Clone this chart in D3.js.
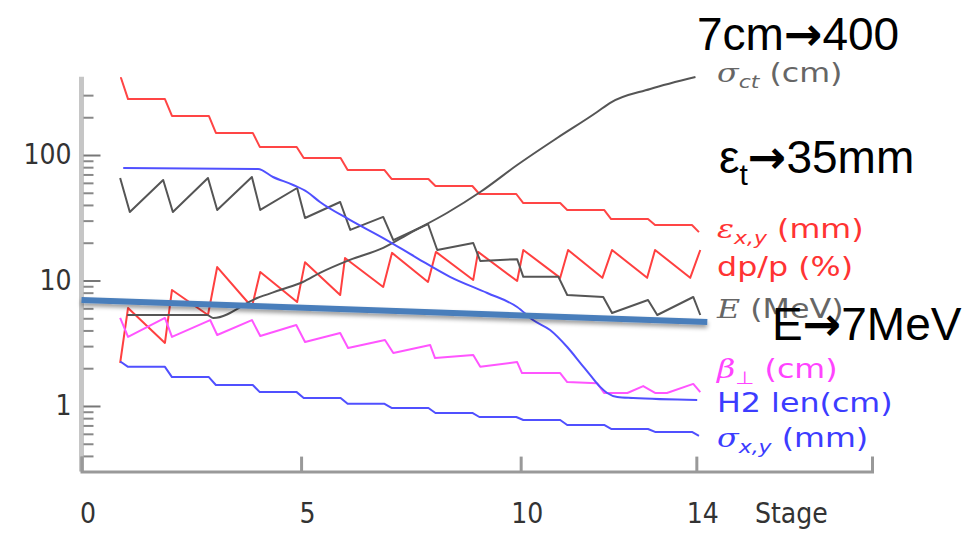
<!DOCTYPE html>
<html>
<head>
<meta charset="utf-8">
<script src="https://cdn.jsdelivr.net/npm/d3@7/dist/d3.min.js"></script>
<style>
  body { margin: 0; background: #fff; }
  svg { display: block; }
</style>
</head>
<body>
<div id="chart"></div>
<script>
// ---- valeurs ----
var stageTicks = [0, 5, 10, 14];
var yTicks = [1, 10, 100];
var yMinorTicks = [0.4, 0.5, 0.6, 0.7, 0.8, 0.9, 2, 3, 4, 5, 6, 7, 8, 9,
                   20, 30, 40, 50, 60, 70, 80, 90, 200, 300];

// series en escalier : niveau avant l'etage 1 puis niveau de chaque etage
var stepStarts = [1, 2, 3, 4, 5, 6, 7, 8, 9, 10, 11, 12, 13, 14];
var epsXYLevels = [411, 279, 205, 150, 116, 94.6, 75.9, 64.4, 56.6, 48.9, 41.4, 36.5, 30.9, 27.7, 24.3];
var sigmaXYLevels = [2.24, 2.05, 1.70, 1.47, 1.29, 1.16, 1.04, 0.964, 0.880, 0.817, 0.773, 0.706, 0.656, 0.621, 0.577];

// E (MeV), dents de scie
var eStage = [0.88, 1.10, 1.86, 2.08, 2.88, 3.09, 3.88, 4.07, 4.91, 5.09, 5.89, 6.12, 6.87, 7.10,
              7.89, 8.10, 8.92, 9.08, 9.92, 10.06, 10.86, 11.06, 11.88, 12.08, 12.90, 13.11, 13.93, 14.09];
var eValue = [65.6, 35.1, 63.2, 35.1, 65.6, 36.5, 66.8, 36.5, 54.6, 31.5, 42.2, 25.3, 32.1, 21.0,
              28.2, 17.5, 19.9, 14.3, 14.8, 10.7, 10.7, 7.66, 7.39, 5.51, 6.99, 5.31, 7.39, 5.31];

// dp/p (%)
var dppStage = [0.88, 1.06, 1.90, 2.06, 2.88, 3.09, 3.88, 4.07, 4.91, 5.09, 5.89, 6.00, 6.87, 7.07,
                7.89, 8.07, 8.92, 9.03, 9.92, 10.06, 10.90, 11.08, 11.86, 12.08, 12.88, 13.06, 13.86, 14.09];
var dppValue = [2.20, 6.04, 3.18, 8.40, 5.31, 12.8, 6.15, 11.7, 6.74, 14.0, 7.66, 15.1, 8.88, 16.6,
                9.73, 16.9, 10.1, 16.9, 9.91, 17.5, 10.5, 17.5, 10.5, 17.5, 10.5, 17.5, 10.5, 17.5];

// beta perp (cm)
var betaStage = [0.88, 1.06, 1.90, 2.06, 2.93, 3.09, 3.88, 4.07, 4.89, 5.09, 5.89, 6.07, 6.91, 7.10,
                 7.94, 8.05, 8.92, 9.08, 9.92, 10.03, 10.90, 11.06, 11.74, 11.90, 12.43, 12.79, 13.06, 13.33, 13.93, 14.09];
var betaValue = [5.03, 3.55, 5.03, 3.55, 4.84, 3.68, 4.84, 3.61, 4.42, 3.24, 3.82, 2.90, 3.36, 2.64,
                 3.06, 2.41, 2.55, 2.05, 2.24, 1.83, 1.83, 1.55, 1.52, 1.27, 1.27, 1.44, 1.27, 1.27, 1.50, 1.29];

// sigma ct (cm)
var sigmaCtStage = [1.04, 2.86, 3.00, 4.00, 4.52, 5.04, 5.43, 6.11, 6.87, 7.48, 8.32, 9.08, 9.92, 10.83, 11.74, 12.03, 12.95, 13.98];
var sigmaCtValue = [5.31, 5.31, 5.03, 7.25, 8.40, 9.73, 11.5, 14.6, 18.2, 23.9, 34.5, 50.7, 83.2, 136.6, 220, 259.5, 335.7, 418];

// longueur H2 (cm)
var h2Stage = [0.95, 4.02, 4.36, 4.82, 5.14, 5.43, 6.12, 6.87, 7.64, 8.39, 9.24, 9.92, 10.28, 10.67,
               11.06, 11.36, 11.58, 11.81, 11.97, 12.20, 12.56, 14.02];
var h2Value = [78.8, 77.3, 66.8, 57.7, 50.7, 42.2, 30.3, 21.8, 15.1, 10.7, 7.95, 6.15, 4.84, 4.03,
               2.95, 2.20, 1.77, 1.42, 1.27, 1.18, 1.158, 1.116];

// trait epais ajoute sur la diapo (E)
var eTrendStage = [0, 14.25];
var eTrendValue = [7.0, 4.67];

// ---- dessin ----
var largeur = 980, hauteur = 534;
var svg = d3.select("#chart").append("svg").attr("width", largeur).attr("height", hauteur);

var x = d3.scaleLinear().domain([0, 18]).range([81.5, 872]);
var y = d3.scaleLog().domain([0.3, 420]).range([471.6, 76.8]);

var axeFont = "'DejaVu Sans Condensed', 'DejaVu Sans', sans-serif";

// axe vertical (trait gris clair epais)
svg.append("line")
    .attr("x1", x(0)).attr("x2", x(0))
    .attr("y1", y(420)).attr("y2", y(0.3))
    .attr("stroke", "#c6c6c6").attr("stroke-width", 5);

var gMin = svg.append("g").attr("transform", "translate(" + (x(0) + 2) + ",0)")
    .call(d3.axisLeft(y).tickValues(yMinorTicks).tickSize(-10).tickFormat(""));
gMin.select(".domain").remove();
gMin.selectAll("line").attr("stroke", "#888").attr("stroke-width", 2);

var gMaj = svg.append("g").attr("transform", "translate(" + (x(0) + 2) + ",0)")
    .call(d3.axisLeft(y).tickValues(yTicks).tickSize(-17).tickPadding(12).tickFormat(d3.format("d")));
gMaj.select(".domain").remove();
gMaj.selectAll("line").attr("stroke", "#777").attr("stroke-width", 2);
gMaj.selectAll("text").attr("font-family", axeFont).attr("font-size", 28).attr("fill", "#333");

// axe horizontal
var gX = svg.append("g").attr("transform", "translate(0," + y(0.3) + ")")
    .call(d3.axisBottom(x).tickValues(stageTicks).tickSize(-15).tickPadding(32));
gX.select(".domain").attr("stroke", "#999").attr("stroke-width", 3);
gX.selectAll("line").attr("stroke", "#999").attr("stroke-width", 3);
gX.selectAll("text").attr("font-family", axeFont).attr("font-size", 28).attr("fill", "#333").attr("dx", 6);

svg.append("text")
    .attr("x", 755).attr("y", y(0.3) + 32).attr("dy", "0.71em")
    .attr("font-family", axeFont).attr("font-size", 28).attr("fill", "#333")
    .text("Stage");

// ---- courbes ----
function marches(niveaux) {
    var pts = [[0.88, niveaux[0]]];
    for (var i = 0; i < stepStarts.length; i++) {
        pts.push([stepStarts[i] - 0.1, niveaux[i]]);
        pts.push([stepStarts[i] + 0.06, niveaux[i + 1]]);
    }
    return pts;
}
function paires(s, v) {
    return s.map(function(d, i) { return [d, v[i]]; });
}

var ligne = d3.line().x(function(d) { return x(d[0]); }).y(function(d) { return y(d[1]); });
var ligneLisse = d3.line().curve(d3.curveMonotoneX).x(function(d) { return x(d[0]); }).y(function(d) { return y(d[1]); });

var series = [
    { pts: marches(epsXYLevels), couleur: "#ff4545", gen: ligne },
    { pts: paires(dppStage, dppValue), couleur: "#ff4040", gen: ligne },
    { pts: paires(eStage, eValue), couleur: "#555", gen: ligne },
    { pts: paires(sigmaCtStage, sigmaCtValue), couleur: "#555", gen: ligneLisse },
    { pts: paires(betaStage, betaValue), couleur: "#ff55ff", gen: ligne },
    { pts: paires(h2Stage, h2Value), couleur: "#5050ff", gen: ligneLisse },
    { pts: marches(sigmaXYLevels), couleur: "#5050ff", gen: ligne }
];

series.forEach(function(s) {
    svg.append("path")
        .attr("d", s.gen(s.pts))
        .attr("fill", "none")
        .attr("stroke", s.couleur)
        .attr("stroke-width", 2)
        .attr("stroke-linejoin", "round");
});

// ---- etiquettes des courbes ----
var etiquettes = [
    { y: 82,  couleur: "#666",    parts: [["σ", "m"], ["ct", "s"], [" (cm)", ""]] },
    { y: 238, couleur: "#ff3333", parts: [["ε", "m"], ["x,y", "s"], [" (mm)", ""]] },
    { y: 276, couleur: "#ff3333", parts: [["dp/p (%)", ""]] },
    { y: 318, couleur: "#666",    parts: [["E", "m"], [" (MeV)", ""]] },
    { y: 378, couleur: "#ff44ff", parts: [["β", "m"], ["⊥", "s"], [" (cm)", ""]] },
    { y: 412, couleur: "#3c3cff", parts: [["H2 len(cm)", ""]] },
    { y: 447, couleur: "#3c3cff", parts: [["σ", "m"], ["x,y", "s"], [" (mm)", ""]] }
];

etiquettes.forEach(function(e) {
    var t = svg.append("text")
        .attr("transform", "translate(717," + e.y + ") scale(1.22,1)")
        .attr("font-family", "'DejaVu Sans', sans-serif")
        .attr("font-size", 26)
        .attr("fill", e.couleur);
    var decal = 0;
    e.parts.forEach(function(p) {
        var ts = t.append("tspan").text(p[0]);
        if (p[1] === "m") {
            ts.attr("font-family", "'DejaVu Serif', serif").attr("font-style", "italic");
        }
        if (p[1] === "s") {
            ts.attr("font-size", 18).attr("font-style", "italic").attr("dy", 6);
            decal = 6;
        } else if (decal) {
            ts.attr("dy", -decal);
            decal = 0;
        }
    });
});

// ---- trait epais E avec ombre ----
var defs = svg.append("defs");
var ombre = defs.append("filter").attr("id", "ombre")
    .attr("x", "-5%").attr("y", "-300%").attr("width", "110%").attr("height", "700%");
ombre.append("feDropShadow").attr("dx", 0).attr("dy", 3).attr("stdDeviation", 2)
    .attr("flood-color", "#000").attr("flood-opacity", 0.4);

svg.append("path")
    .attr("d", ligne(paires(eTrendStage, eTrendValue)))
    .attr("stroke", "#4a7ebb")
    .attr("stroke-width", 6)
    .attr("fill", "none")
    .attr("filter", "url(#ombre)");

// ---- annotations ----
var noteFont = "'Liberation Sans', Arial, sans-serif";
var fleche = "'DejaVu Sans', sans-serif";

var n1 = svg.append("text").attr("x", 697).attr("y", 50)
    .attr("font-family", noteFont).attr("font-size", 46).attr("fill", "#000");
n1.append("tspan").text("7cm");
n1.append("tspan").attr("font-family", fleche).attr("font-weight", "bold").text("→");
n1.append("tspan").text("400");

var n2 = svg.append("text").attr("x", 719).attr("y", 173)
    .attr("font-family", noteFont).attr("font-size", 46).attr("fill", "#000");
n2.append("tspan").text("ε");
n2.append("tspan").attr("font-size", 30).attr("dy", 12).text("t");
n2.append("tspan").attr("dy", -12).attr("font-family", fleche).attr("font-weight", "bold").text("→");
n2.append("tspan").text("35mm");

var n3 = svg.append("text").attr("x", 772).attr("y", 340)
    .attr("font-family", noteFont).attr("font-size", 46).attr("fill", "#000");
n3.append("tspan").text("E");
n3.append("tspan").attr("font-family", fleche).attr("font-weight", "bold").text("→");
n3.append("tspan").text("7MeV");
</script>
</body>
</html>
